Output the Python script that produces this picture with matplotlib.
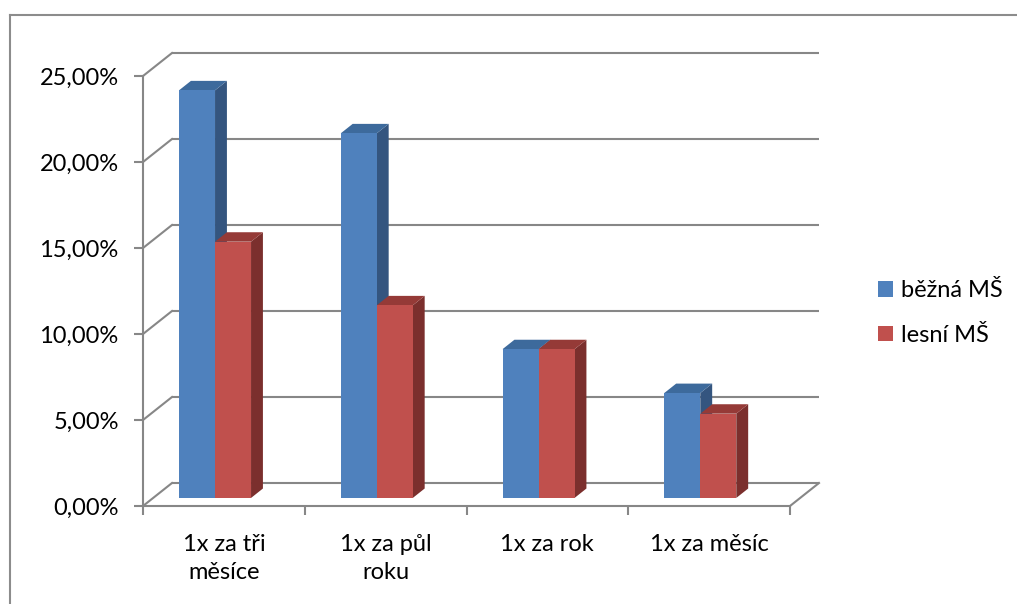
import matplotlib
matplotlib.use("Agg")
import matplotlib.pyplot as plt
from matplotlib.patches import Polygon, Patch
from matplotlib.lines import Line2D
from matplotlib.ticker import FuncFormatter

plt.rcParams['font.family'] = ['Lato', 'DejaVu Sans']

categories = ["1x za tři\nměsíce", "1x za půl\nroku", "1x za rok", "1x za měsíc"]
series_names = ["běžná MŠ", "lesní MŠ"]
bezna = [23.7, 21.2, 8.65, 6.1]
lesni = [14.9, 11.2, 8.65, 4.9]
y_ticks = [0, 5, 10, 15, 20, 25]

W, H = 1017, 604
fig = plt.figure(figsize=(W / 100, H / 100), dpi=100)

# front plane of the 3D box: pixel extents
x0, x1 = 143, 790
y0, y1 = 506, 76
ax = fig.add_axes([x0 / W, (H - y0) / H, (x1 - x0) / W, (y0 - y1) / H])
n = len(categories)
ymax = 25
ax.set_xlim(0, n)
ax.set_ylim(0, ymax)

px_per_x = (x1 - x0) / n
px_per_y = (y0 - y1) / ymax
# depth offset of the back wall (pixels right, pixels up)
DEPTH_DX, DEPTH_DY = 29, 23
DX = DEPTH_DX / px_per_x
DY = DEPTH_DY / px_per_y


def proj(x, v, z):
    """Map category position x, value v and depth z (0 front, 1 back) to data coords."""
    return (x + z * DX, v + z * DY)


grid_c = "#878787"
lw = 1.5

# back wall gridlines and their diagonals to the front axis
for t in y_ticks:
    bx, by = proj(0, t, 1)
    ex, ey = proj(n, t, 1)
    ax.plot([bx, ex], [by, ey], color=grid_c, lw=lw, clip_on=False, zorder=1,
            solid_capstyle='butt')
    ax.plot([0, bx], [t, by], color=grid_c, lw=lw, clip_on=False, zorder=1)
# right edge of the floor
fx, fy = proj(n, 0, 1)
ax.plot([n, fx], [0, fy], color=grid_c, lw=lw, clip_on=False, zorder=1)

# bars
colors = [
    {"front": "#4F81BD", "side": "#34557F", "top": "#3D6A9C"},
    {"front": "#C0504D", "side": "#7B2F2D", "top": "#953A37"},
]
bar_w = 36 / px_per_x
offset0 = 0.16
zf, zb = 0.35, 0.76

for i in range(n):
    for s, vals in enumerate([bezna, lesni]):
        v = vals[i]
        xl = i + offset0 + s * bar_w
        xr = xl + bar_w
        c = colors[s]
        side = [proj(xr, 0, zf), proj(xr, 0, zb), proj(xr, v, zb), proj(xr, v, zf)]
        top = [proj(xl, v, zf), proj(xr, v, zf), proj(xr, v, zb), proj(xl, v, zb)]
        front = [proj(xl, 0, zf), proj(xr, 0, zf), proj(xr, v, zf), proj(xl, v, zf)]
        z = 3 + i * 2 + s
        ax.add_patch(Polygon(side, closed=True, facecolor=c["side"], edgecolor='none',
                             clip_on=False, zorder=z))
        ax.add_patch(Polygon(top, closed=True, facecolor=c["top"], edgecolor='none',
                             clip_on=False, zorder=z))
        ax.add_patch(Polygon(front, closed=True, facecolor=c["front"], edgecolor='none',
                             clip_on=False, zorder=z))

# axes styling
for sp in ["top", "right"]:
    ax.spines[sp].set_visible(False)
for sp in ["left", "bottom"]:
    ax.spines[sp].set_color(grid_c)
    ax.spines[sp].set_linewidth(lw)
    ax.spines[sp].set_zorder(2)
ax.set_facecolor('none')
ax.patch.set_visible(False)

ax.set_yticks(y_ticks)
ax.yaxis.set_major_formatter(FuncFormatter(lambda v, p: f"{v:.2f}".replace(".", ",") + "%"))
ax.tick_params(axis='y', length=6.5, width=lw, color=grid_c, pad=11, labelsize=17,
               labelcolor='black')

ax.set_xticks(range(n + 1))
ax.set_xticklabels([])
ax.set_xticks([i + 0.5 for i in range(n)], minor=True)
ax.set_xticklabels(categories, minor=True)
ax.tick_params(axis='x', which='major', length=6.5, width=lw, color=grid_c)
ax.tick_params(axis='x', which='minor', length=0, pad=20, labelsize=17, labelcolor='black')
for lab in ax.get_xticklabels(minor=True):
    lab.set_linespacing(1.45)

# legend
handles = [Patch(facecolor=colors[k]["front"], edgecolor='none') for k in range(2)]
fig.legend(handles, series_names, loc='center left',
           bbox_to_anchor=(857 / W, 1 - 313 / H), frameon=False, fontsize=17,
           handlelength=0.62, handleheight=0.62, handletextpad=0.35, labelspacing=1.0)

# outer chart frame
border_c = "#8C8C8C"
fig.add_artist(Line2D([10 / W, 10 / W], [0, 1 - 15 / H], color=border_c, lw=1.5,
                      transform=fig.transFigure))
fig.add_artist(Line2D([10 / W, 1], [1 - 15 / H, 1 - 15 / H], color=border_c, lw=1.5,
                      transform=fig.transFigure))

fig.savefig("out.png", dpi=100)
